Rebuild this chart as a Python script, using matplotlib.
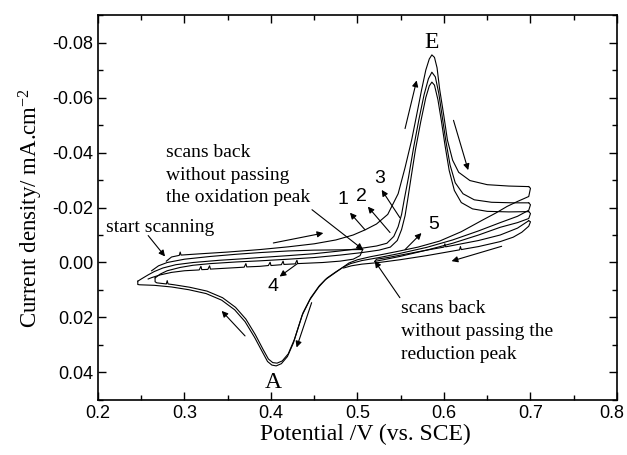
import numpy as np
import matplotlib
matplotlib.use("Agg")
import matplotlib.pyplot as plt
import matplotlib.transforms as mtransforms
from matplotlib.ticker import MultipleLocator

# --- potential (V) / current density (mA cm-2) branches of the voltammogram ---
fwd1 = [(0.279, -0.0005), (0.285, -0.0020), (0.294, -0.0026), (0.295, -0.0038), (0.296, -0.0027),
        (0.320, -0.0032), (0.350, -0.0038), (0.387, -0.0047), (0.420, -0.0057), (0.450, -0.0068),
        (0.475, -0.0082), (0.495, -0.0100), (0.509, -0.0119), (0.522, -0.0140), (0.535, -0.0175),
        (0.547, -0.0250), (0.555, -0.0345), (0.5626, -0.0445), (0.568, -0.0530), (0.574, -0.0626),
        (0.579, -0.0700), (0.583, -0.0740), (0.586, -0.0755), (0.589, -0.0746), (0.592, -0.0708),
        (0.595, -0.0630), (0.600, -0.0530), (0.604, -0.0445), (0.610, -0.0372), (0.617, -0.0328),
        (0.630, -0.0298), (0.650, -0.0283), (0.675, -0.0278), (0.698, -0.0276)]
rev1 = [(0.698, -0.0276), (0.700, -0.0270), (0.698, -0.0240), (0.685, -0.0222), (0.673, -0.0204),
        (0.660, -0.0180), (0.645, -0.0155), (0.620, -0.0112), (0.595, -0.0078), (0.570, -0.0056),
        (0.549, -0.0042), (0.530, -0.0030), (0.515, -0.0021), (0.500, -0.0010), (0.490, 0.0002),
        (0.482, 0.0020), (0.472, 0.0042), (0.463, 0.0062), (0.455, 0.0090), (0.445, 0.0135),
        (0.436, 0.0192), (0.426, 0.0292), (0.419, 0.0342), (0.412, 0.0368), (0.406, 0.0376),
        (0.401, 0.0373), (0.396, 0.0360), (0.390, 0.0325), (0.381, 0.0272), (0.370, 0.0215),
        (0.358, 0.0172), (0.343, 0.0137), (0.325, 0.0113), (0.305, 0.0099), (0.285, 0.0089),
        (0.265, 0.0083), (0.248, 0.0081), (0.246, 0.0080), (0.246, 0.0068)]
fwd2 = [(0.246, 0.0068), (0.250, 0.0060), (0.258, 0.0045), (0.265, 0.0033), (0.275, 0.0020),
        (0.290, 0.0008), (0.310, 0.0000), (0.340, -0.0008), (0.370, -0.0014), (0.387, -0.0018),
        (0.420, -0.0025), (0.450, -0.0032), (0.480, -0.0042), (0.505, -0.0052), (0.522, -0.0060),
        (0.534, -0.0070), (0.542, -0.0095), (0.547, -0.0130), (0.551, -0.0175), (0.554, -0.0228),
        (0.559, -0.0310), (0.565, -0.0420), (0.571, -0.0520), (0.577, -0.0610), (0.582, -0.0668),
        (0.586, -0.0692), (0.590, -0.0675), (0.594, -0.0615), (0.598, -0.0530), (0.602, -0.0445),
        (0.607, -0.0355), (0.613, -0.0290), (0.622, -0.0250), (0.635, -0.0228), (0.655, -0.0219),
        (0.680, -0.0217), (0.698, -0.0217)]
rev2 = [(0.698, -0.0217), (0.700, -0.0210), (0.698, -0.0190), (0.685, -0.0168), (0.665, -0.0145),
        (0.640, -0.0115), (0.610, -0.0082), (0.580, -0.0055), (0.549, -0.0033), (0.525, -0.0018),
        (0.505, -0.0007), (0.492, 0.0004), (0.484, 0.0016), (0.475, 0.0034), (0.465, 0.0056),
        (0.456, 0.0084), (0.446, 0.0128), (0.437, 0.0183), (0.427, 0.0280), (0.420, 0.0332),
        (0.413, 0.0358), (0.407, 0.0366), (0.402, 0.0364), (0.397, 0.0351), (0.391, 0.0317),
        (0.382, 0.0263), (0.371, 0.0206), (0.359, 0.0163), (0.344, 0.0128), (0.326, 0.0104),
        (0.306, 0.0090), (0.288, 0.0081), (0.281, 0.0078), (0.280, 0.0066), (0.279, 0.0078),
        (0.268, 0.0074), (0.266, 0.0070), (0.266, 0.0056)]
fwd3 = [(0.266, 0.0056), (0.272, 0.0042), (0.280, 0.0030), (0.295, 0.0018), (0.310, 0.0010),
        (0.330, 0.0004), (0.360, -0.0002), (0.387, -0.0006), (0.420, -0.0012), (0.450, -0.0018),
        (0.480, -0.0027), (0.505, -0.0036), (0.525, -0.0045), (0.538, -0.0056), (0.546, -0.0080),
        (0.551, -0.0120), (0.555, -0.0170), (0.558, -0.0228), (0.562, -0.0310), (0.567, -0.0410),
        (0.573, -0.0510), (0.579, -0.0600), (0.583, -0.0642), (0.586, -0.0656), (0.589, -0.0645),
        (0.593, -0.0592), (0.597, -0.0515), (0.601, -0.0430), (0.606, -0.0335), (0.612, -0.0262),
        (0.620, -0.0218), (0.633, -0.0195), (0.650, -0.0186), (0.675, -0.0184), (0.698, -0.0185)]
# reverse sweep stopped at 0.52 V (before the reduction peak), then forward again
rev3 = [(0.698, -0.0185), (0.700, -0.0178), (0.698, -0.0160), (0.685, -0.0145), (0.665, -0.0128),
        (0.640, -0.0100), (0.610, -0.0070), (0.580, -0.0045), (0.549, -0.0022), (0.530, -0.0010),
        (0.520, -0.0004)]
fwd5 = [(0.520, -0.0004), (0.522, -0.0012), (0.535, -0.0018), (0.555, -0.0030), (0.580, -0.0045),
        (0.600, -0.0056), (0.601, -0.0068), (0.602, -0.0057), (0.640, -0.0080), (0.665, -0.0100),
        (0.685, -0.0125), (0.698, -0.0152)]
rev5 = [(0.698, -0.0152), (0.700, -0.0148), (0.698, -0.0132), (0.690, -0.0110), (0.680, -0.0092),
        (0.665, -0.0076), (0.640, -0.0058), (0.620, -0.0047), (0.619, -0.0058), (0.618, -0.0046),
        (0.580, -0.0025), (0.549, -0.0010), (0.525, 0.0000), (0.505, 0.0006), (0.493, 0.0012),
        (0.484, 0.0020)]
# forward sweep stopped at 0.506 V (before the oxidation peak), then back
fwd4 = [(0.262, 0.0030), (0.270, 0.0012), (0.280, 0.0000), (0.300, -0.0012), (0.330, -0.0022),
        (0.360, -0.0030), (0.387, -0.0036), (0.420, -0.0042), (0.450, -0.0045), (0.480, -0.0046),
        (0.500, -0.0047), (0.506, -0.0047)]
rev4 = [(0.506, -0.0047), (0.503, -0.0025), (0.495, -0.0012), (0.480, -0.0005), (0.460, 0.0000),
        (0.431, 0.0004), (0.430, -0.0008), (0.428, 0.0005), (0.415, 0.0007), (0.414, -0.0005),
        (0.412, 0.0008), (0.400, 0.0011), (0.399, -0.0001), (0.397, 0.0011), (0.387, 0.0014),
        (0.372, 0.0016), (0.371, 0.0004), (0.369, 0.0017), (0.330, 0.0024), (0.329, 0.0012),
        (0.327, 0.0025), (0.320, 0.0026), (0.319, 0.0014), (0.317, 0.0027), (0.300, 0.0030),
        (0.285, 0.0036), (0.272, 0.0045), (0.262, 0.0055), (0.258, 0.0060)]
branches = [fwd1, rev1, fwd2, rev2, fwd3, rev3, fwd5, rev5, fwd4, rev4]

x_ticks = [0.2, 0.3, 0.4, 0.5, 0.6, 0.7, 0.8]
x_labels = ["0.2", "0.3", "0.4", "0.5", "0.6", "0.7", "0.8"]
y_ticks = [-0.08, -0.06, -0.04, -0.02, 0.00, 0.02, 0.04]
y_labels = ["-0.08", "-0.06", "-0.04", "-0.02", "0.00", "0.02", "0.04"]

# scan-direction arrows (tail, head)
sweep_arrows = [((0.4027, -0.0071), (0.4605, -0.0107)),
                ((0.555, -0.0487), (0.5684, -0.0662)),
                ((0.611, -0.0517), (0.628, -0.0336)),
                ((0.6667, -0.0059), (0.6088, -0.0005)),
                ((0.447, 0.0146), (0.4296, 0.0309)),
                ((0.370, 0.0267), (0.343, 0.0176))]
# numbered curve labels: text, label position, arrow tail (on curve), arrow head (at label)
scan_labels = [("1", (0.483, -0.0228), (0.5087, -0.0119), (0.4913, -0.0181)),
               ("2", (0.505, -0.0239), (0.5376, -0.0109), (0.512, -0.0203)),
               ("3", (0.526, -0.0307), (0.549, -0.0163), (0.528, -0.0264)),
               ("4", (0.402, 0.0086), (0.431, 0.0003), (0.410, 0.0051)),
               ("5", (0.588, -0.0140), (0.555, -0.0047), (0.574, -0.0107))]

plt.rcParams['font.family'] = ['Liberation Sans', 'DejaVu Sans']
plt.rcParams['mathtext.fontset'] = 'custom'
plt.rcParams['mathtext.rm'] = 'Liberation Serif'
plt.rcParams['mathtext.it'] = 'Liberation Serif:italic'
serif = ['Liberation Serif', 'DejaVu Serif']

fig = plt.figure(figsize=(6.27, 4.55), dpi=100)
ax = fig.add_axes([0.1563, 0.1209, 0.8277, 0.8461])

for br in branches:
    arr = np.array(br)
    ax.plot(arr[:, 0], arr[:, 1], color='black', lw=0.8, solid_joinstyle='round')

ax.set_xlim(0.2, 0.8)
ax.set_ylim(0.05, -0.09)
ax.set_xticks(x_ticks)
ax.set_xticklabels(x_labels)
ax.set_yticks(y_ticks)
ax.set_yticklabels(y_labels)
ax.xaxis.set_minor_locator(MultipleLocator(0.05))
ax.yaxis.set_minor_locator(MultipleLocator(0.01))
ax.tick_params(which='both', direction='in', top=True, right=True, labelsize=13, width=1.0)
ax.tick_params(which='major', length=6)
ax.tick_params(which='minor', length=3.5)
for sp in ax.spines.values():
    sp.set_linewidth(1.2)

# nudge the last x label so it stays inside the canvas
last = ax.get_xticklabels()[-1]
last.set_transform(last.get_transform() +
                   mtransforms.ScaledTranslation(-5 / 100, 0, fig.dpi_scale_trans))

ax.set_xlabel("Potential /V (vs. SCE)", fontsize=17, family=serif)
ax.xaxis.set_label_coords(0.516, -0.062)
ax.set_ylabel("Current density/ mA.cm$^{-2}$", fontsize=16.5, family=serif, labelpad=5)

arrow_kw = dict(arrowstyle='-|>', color='black', lw=0.8, mutation_scale=9, shrinkA=0, shrinkB=0)
for tail, head in sweep_arrows:
    ax.annotate("", xy=head, xytext=tail, arrowprops=arrow_kw)
for txt, pos, tail, head in scan_labels:
    ax.text(pos[0], pos[1], txt, fontsize=14, ha='center', va='center')
    ax.annotate("", xy=head, xytext=tail, arrowprops=arrow_kw)

ax.text(0.586, -0.0800, "E", fontsize=17, family=serif, ha='center', va='center')
ax.text(0.403, 0.0436, "A", fontsize=17, family=serif, ha='center', va='center')

ax.text(0.209, -0.0127, "start scanning", fontsize=14, family=serif, ha='left', va='center')
ax.annotate("", xy=(0.2775, -0.0022), xytext=(0.258, -0.0098), arrowprops=arrow_kw)

ax.text(0.279, -0.0318, "scans back\nwithout passing\nthe oxidation peak", fontsize=14,
        family=serif, ha='left', va='center', linespacing=1.45)
ax.annotate("", xy=(0.5064, -0.0047), xytext=(0.4474, -0.0192), arrowprops=arrow_kw)

ax.text(0.550, 0.0250, "scans back\nwithout passing the\nreduction peak", fontsize=14,
        family=serif, ha='left', va='center', linespacing=1.45)
ax.annotate("", xy=(0.520, -0.0005), xytext=(0.549, 0.0128), arrowprops=arrow_kw)

fig.savefig("out.png", dpi=100)
